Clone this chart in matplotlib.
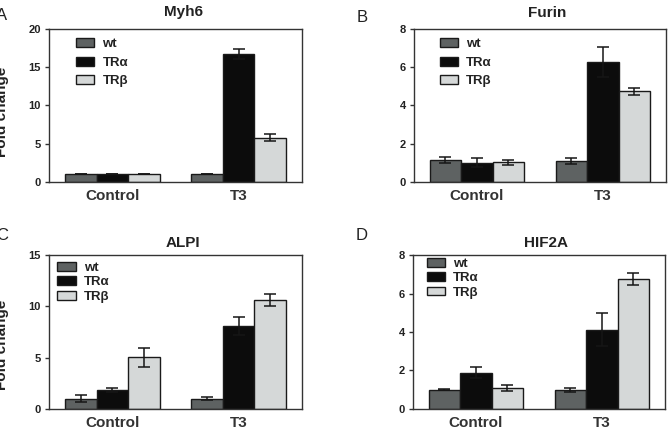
import matplotlib
matplotlib.use("Agg")
import matplotlib.pyplot as plt
import numpy as np

# data
groups = ["Control", "T3"]
series = ["wt", "TR\u03b1", "TR\u03b2"]
colors = ["#5e6262", "#0c0c0c", "#d5d8d8"]

# rows: wt, TRa, TRb ; columns: Control, T3
myh6_mean = [[1.0, 1.0], [1.0, 16.75], [1.0, 5.8]]
myh6_err = [[0.0, 0.0], [0.0, 0.7], [0.0, 0.4]]

furin_mean = [[1.13, 1.08], [1.0, 6.27], [1.01, 4.74]]
furin_err = [[0.16, 0.14], [0.24, 0.8], [0.11, 0.2]]

alpi_mean = [[0.98, 0.98], [1.83, 8.09], [5.02, 10.63]]
alpi_err = [[0.36, 0.13], [0.16, 0.91], [0.95, 0.59]]

hif2a_mean = [[0.99, 0.99], [1.88, 4.12], [1.08, 6.77]]
hif2a_err = [[0.02, 0.11], [0.3, 0.85], [0.14, 0.33]]

plt.rcParams["font.family"] = ["Liberation Sans", "DejaVu Sans"]
plt.rcParams["font.weight"] = "bold"
txt = "#222222"

fig = plt.figure(figsize=(6.7, 4.32), dpi=100)


def drawPanel(rect, title, mean, err, ymax, yticks, legAnchor, legSpacing, titlePad=9):
    ax = fig.add_axes(rect)
    x = np.arange(len(groups))
    w = 0.25
    for i, name in enumerate(series):
        ax.bar(x + (i - 1) * w, mean[i], w, color=colors[i], edgecolor="#1a1a1a",
               linewidth=1.0, label=name, zorder=2)
        ax.errorbar(x + (i - 1) * w, mean[i], yerr=err[i], fmt="none", ecolor="#161616",
                    elinewidth=1.1, capsize=4.5, capthick=1.1, zorder=3)
    ax.set_xlim(-0.5, 1.5)
    ax.set_ylim(0, ymax)
    ax.set_yticks(yticks)
    ax.set_xticks(x)
    ax.set_xticklabels(groups, fontsize=11, fontweight="bold", color="#333333")
    ax.tick_params(axis="x", length=0, pad=5.5)
    ax.tick_params(axis="y", length=3, width=1, pad=3, labelsize=8, colors="#333333",
                   labelcolor=txt)
    for s in ax.spines.values():
        s.set_color("#333333")
        s.set_linewidth(1.0)
    ax.set_title(title, fontsize=11, fontweight="bold", color=txt, pad=titlePad, x=0.53)
    ax.legend(loc="upper left", bbox_to_anchor=legAnchor, frameon=False, fontsize=9.5,
              borderpad=0, borderaxespad=0, handlelength=1.38, handleheight=0.65,
              handletextpad=0.62, labelspacing=legSpacing, labelcolor=txt)
    return ax


drawPanel([0.0736, 0.5794, 0.3767, 0.3528], "Myh6", myh6_mean, myh6_err, 20,
          [0, 5, 10, 15, 20], (0.106, 0.94), 0.48, titlePad=9.5)
drawPanel([0.6179, 0.5794, 0.3757, 0.3528], "Furin", furin_mean, furin_err, 8,
          [0, 2, 4, 6, 8], (0.103, 0.94), 0.48, titlePad=9)
drawPanel([0.0736, 0.0539, 0.3767, 0.3551], "ALPI", alpi_mean, alpi_err, 15,
          [0, 5, 10, 15], (0.032, 0.958), 0.2, titlePad=6)
drawPanel([0.6164, 0.0539, 0.3757, 0.3551], "HIF2A", hif2a_mean, hif2a_err, 8,
          [0, 2, 4, 6, 8], (0.055, 0.984), 0.18, titlePad=6)

# y labels (partly cut at the left edge in the original)
fig.text(2 / 670, 1 - 112 / 432, "Fold change", rotation=90, ha="center", va="center",
         fontsize=11, fontweight="bold", color=txt)
fig.text(2 / 670, 1 - 345 / 432, "Fold change", rotation=90, ha="center", va="center",
         fontsize=11, fontweight="bold", color=txt)

# panel letters
for lx, ly, letter in [(2, 16, "A"), (362, 18, "B"), (2, 235, "C"), (362, 236, "D")]:
    fig.text(lx / 670, 1 - ly / 432, letter, ha="center", va="center", fontsize=12,
             fontweight="normal", color=txt)

fig.savefig("out.png", dpi=100)
